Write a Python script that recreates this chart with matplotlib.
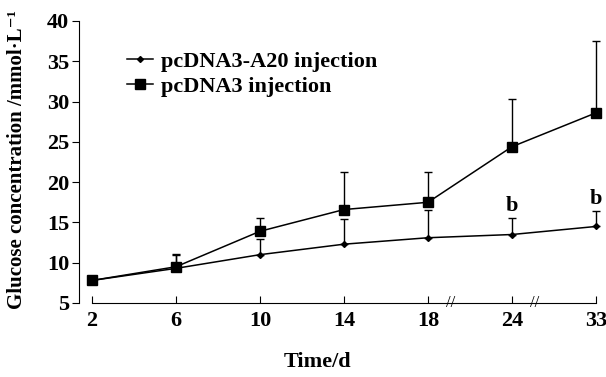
import numpy as np
import matplotlib.pyplot as plt
from matplotlib.lines import Line2D

plt.rcParams['font.family'] = ['Liberation Serif', 'DejaVu Serif']
plt.rcParams['font.weight'] = 'bold'

days = ['2', '6', '10', '14', '18', '24', '33']
a20_mean = [7.8, 9.3, 11.0, 12.3, 13.1, 13.5, 14.5]
a20_err = [0.0, 1.7, 2.0, 3.1, 3.4, 2.0, 1.9]
ctrl_mean = [7.8, 9.5, 13.9, 16.6, 17.5, 24.4, 28.6]
ctrl_err = [0.0, 1.6, 1.6, 4.7, 3.75, 5.9, 8.9]
sig_days = [5, 6]
sig_labels = ['b', 'b']
break_pos = [4.27, 5.27]

x = np.arange(len(days))

fig = plt.figure(figsize=(6.06, 3.77), dpi=100)
ax = fig.add_axes([79/606, 1 - 303/377, (596 - 79)/606, (303 - 21)/377])

ax.errorbar(x, a20_mean, yerr=[np.zeros(len(x)), a20_err], color='black', lw=1.1,
            marker='D', ms=3, capsize=3, elinewidth=1.0, capthick=1.0, clip_on=False)
ax.errorbar(x, ctrl_mean, yerr=[np.zeros(len(x)), ctrl_err], color='black', lw=1.1,
            marker='s', ms=6.5, capsize=3, elinewidth=1.0, capthick=1.0, clip_on=False)

for d, lab in zip(sig_days, sig_labels):
    ax.text(d, a20_mean[d] + a20_err[d] + 0.3, lab, ha='center', va='bottom',
            fontsize=16, fontweight='bold')

for b in break_pos:
    ax.text(b, 5, '//', ha='center', va='center', fontsize=12, fontweight='normal')

ax.set_xlim(-0.155, 6)
ax.set_ylim(5, 40)
ax.set_xticks(x)
ax.set_xticklabels(days)
ax.set_yticks(np.arange(5, 41, 5))
ax.spines['top'].set_visible(False)
ax.spines['right'].set_visible(False)
ax.spines['bottom'].set_bounds(0, 6)
ax.tick_params(axis='x', direction='in', length=5, labelsize=16, pad=6)
ax.tick_params(axis='y', direction='out', length=5, labelsize=16, pad=2)
for lab in ax.get_xticklabels() + ax.get_yticklabels():
    lab.set_fontweight('bold')

fig.text(17/606, 1 - 160/377, 'Glucose concentration /mmol·L⁻¹', rotation=90,
         ha='center', va='center', fontsize=15, fontweight='bold')
fig.text(318/606, 1 - 362/377, 'Time/d', ha='center', va='center',
         fontsize=16, fontweight='bold')

handles = [Line2D([], [], color='black', lw=1.1, marker='D', ms=3),
           Line2D([], [], color='black', lw=1.1, marker='s', ms=6.5)]
ax.legend(handles, ['pcDNA3-A20 injection', 'pcDNA3 injection'],
          loc='upper left', bbox_to_anchor=(0.075, 0.925), frameon=False,
          prop={'size': 16, 'weight': 'bold'}, handlelength=1.2, handletextpad=0.35,
          labelspacing=0.22, borderaxespad=0)

fig.savefig('out.png', dpi=100)
